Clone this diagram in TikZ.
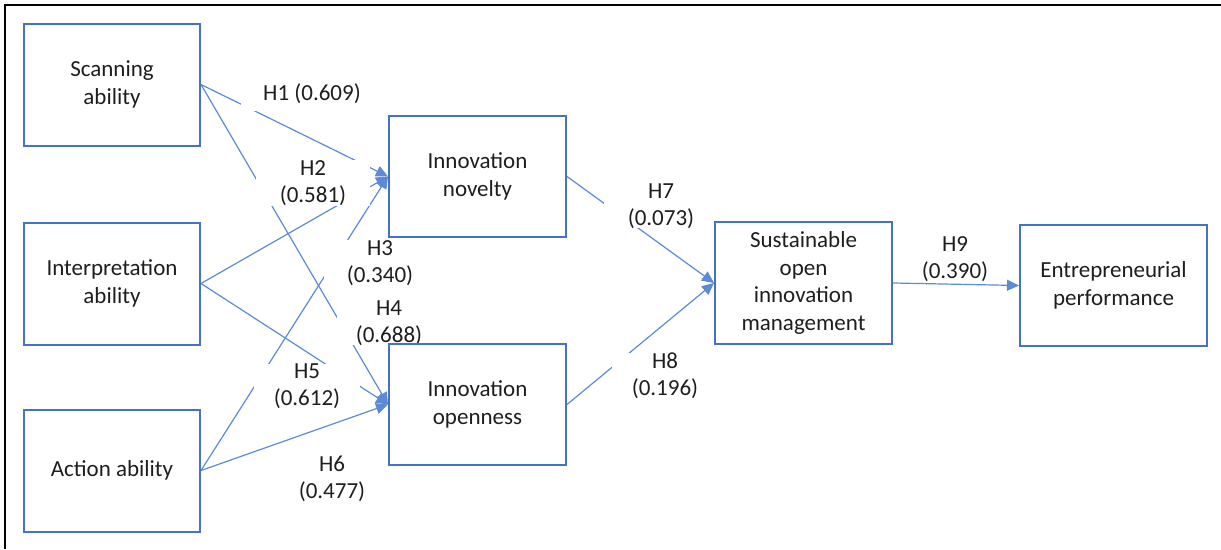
\documentclass[tikz,border=0pt]{standalone}
\usepackage{fontspec}
\setmainfont{Carlito}
\usetikzlibrary{arrows.meta}
\definecolor{wblue}{HTML}{4472C4}
\definecolor{lblue}{HTML}{5B8AD6}
\definecolor{ink}{HTML}{1E1E1E}
\pgfdeclarelayer{bg}
\pgfsetlayers{bg,main}
\begin{document}
\begin{tikzpicture}[x=1pt,y=-1pt,
  box/.style={draw=wblue,line width=2pt,minimum width=176pt,minimum height=122pt,inner sep=0pt,align=center,text=ink,font=\fontsize{23}{27.5}\selectfont},
  conn/.style={draw=lblue,line width=1.2pt,-{Triangle[length=12pt,width=11pt]}},
  lbl/.style={fill=white,inner ysep=0pt,align=center,text=ink,font=\fontsize{23}{27}\selectfont},
  plainlbl/.style={inner sep=0pt,align=center,text=ink,font=\fontsize{23}{27}\selectfont},
]
\useasboundingbox (0,0) rectangle (1221,549);
\draw[line width=2.5pt] (1221,5) -- (5,5) -- (5,549);

\node[box] (scan) at (112,84.5) {Scanning\\ability};
\node[box] (interp) at (112,283.5) {Interpretation\\ability};
\node[box] (action) at (112,470.5) {Action ability};
\node[box,minimum width=177pt,minimum height=121pt] (novel) at (477.5,176.5) {Innovation\\novelty};
\node[box,minimum width=177pt,minimum height=121pt] (open) at (477.5,404.5) {Innovation\\openness};
\node[box,minimum width=177pt] (sust) at (803.5,283) {Sustainable\\open\\innovation\\management};
\node[box,minimum width=187pt,minimum height=121pt] (entre) at (1113.5,285.5) {Entrepreneurial\\performance};

\begin{pgfonlayer}{bg}
\draw[conn] (scan.east) -- (novel.west);
\draw[conn] (scan.east) -- (open.west);
\draw[conn] (interp.east) -- (novel.west);
\draw[conn] (interp.east) -- (open.west);
\draw[conn] (action.east) -- (novel.west);
\draw[conn] (action.east) -- (open.west);
\draw[conn] (novel.east) -- (sust.west);
\draw[conn] (open.east) -- (sust.west);
\draw[conn] (sust.east) -- (entre.west);

\node[lbl,inner xsep=22.5pt,minimum height=34pt] (h1) at (312,94) {H1 (0.609)};
\node[lbl,inner xsep=23.5pt] (h2) at (313,183) {H2\\(0.581)};
\node[lbl,inner xsep=22.5pt] (h3) at (380,263) {H3\\(0.340)};
\node[lbl,inner xsep=19pt] (h4) at (389,323) {H4\\(0.688)};
\node[lbl,inner xsep=19.5pt] (h5) at (307,386) {H5\\(0.612)};
\node[plainlbl] (h6) at (332,479) {H6\\(0.477)};
\node[lbl,inner xsep=24pt] (h7) at (661,206) {H7\\(0.073)};
\node[lbl,inner xsep=20pt] (h8) at (665,376) {H8\\(0.196)};
\node[plainlbl] (h9) at (955,259) {H9\\(0.390)};
\end{pgfonlayer}
\end{tikzpicture}
\end{document}
